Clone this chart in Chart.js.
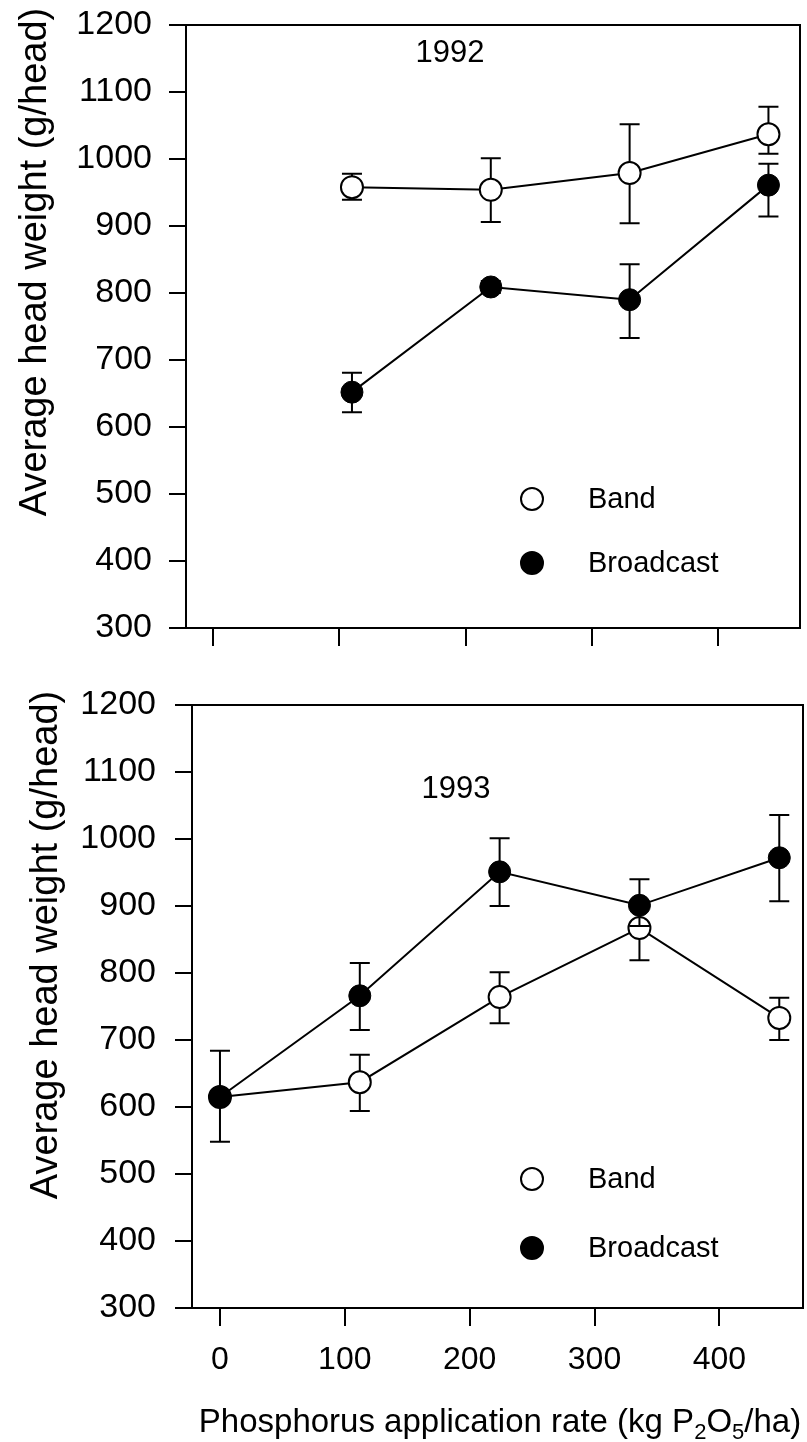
<!DOCTYPE html>
<html>
<head>
<meta charset="utf-8">
<script src="https://cdn.jsdelivr.net/npm/chart.js@4.4.1/dist/chart.umd.min.js"></script>
<style>
  html, body { margin: 0; padding: 0; background: #fff; }
  body { width: 807px; height: 1442px; position: relative; overflow: hidden; font-family: 'Liberation Sans', Arial, sans-serif; }
  .panel { position: absolute; left: 0; }
  #xtitle { position: absolute; left: 0; width: 1000px; top: 1402px; text-align: center; font-size: 33px; color: #000; white-space: nowrap; }
  #xtitle sub { font-size: 22px; vertical-align: -7px; line-height: 0; }
</style>
</head>
<body>
<div class="panel" style="top:0"><canvas id="chart1992" width="807" height="680"></canvas></div>
<div class="panel" style="top:680px"><canvas id="chart1993" width="807" height="762"></canvas></div>
<div id="xtitle">Phosphorus application rate (kg P<sub>2</sub>O<sub>5</sub>/ha)</div>

<script>
// Data
const rates1992 = [110, 220, 330, 440];
const band1992 = [958, 954, 979, 1037];
const band1992Lo = [939, 906, 904, 1008];
const band1992Hi = [978, 1001, 1052, 1078];
const broad1992 = [652, 809, 790, 961];
const broad1992Lo = [622, 800, 733, 914];
const broad1992Hi = [681, 818, 843, 993];

const rates1993 = [0, 112, 224, 336, 448];
const band1993 = [615, 637, 764, 867, 733];
const band1993Lo = [615, 594, 725, 819, 700];
const band1993Hi = [615, 678, 801, 900, 763];
const broad1993 = [615, 766, 951, 901, 972];
const broad1993Lo = [548, 715, 900, 870, 907];
const broad1993Hi = [684, 815, 1001, 940, 1036];

const xTickValues = [0, 100, 200, 300, 400];
const yTickValues = [300, 400, 500, 600, 700, 800, 900, 1000, 1100, 1200];
const yTitle = 'Average head weight (g/head)';

Chart.defaults.font.family = "'Liberation Sans', Arial, sans-serif";
Chart.defaults.color = '#000';

function points(xs, ys) {
  return xs.map((x, i) => ({ x: x, y: ys[i] }));
}

// Error bars drawn just before each dataset so later series sit on top
const errorBars = {
  id: 'errorBars',
  beforeDatasetDraw(chart, args) {
    const ds = chart.data.datasets[args.index];
    if (!ds.errLo) return;
    const yScale = chart.scales.y;
    const ctx = chart.ctx;
    ctx.save();
    ctx.strokeStyle = '#000';
    ctx.lineWidth = 2;
    args.meta.data.forEach((el, i) => {
      const lo = yScale.getPixelForValue(ds.errLo[i]);
      const hi = yScale.getPixelForValue(ds.errHi[i]);
      if (Math.abs(lo - hi) < 1) return;
      ctx.beginPath();
      ctx.moveTo(el.x, lo); ctx.lineTo(el.x, hi);
      ctx.moveTo(el.x - 10, lo); ctx.lineTo(el.x + 10, lo);
      ctx.moveTo(el.x - 10, hi); ctx.lineTo(el.x + 10, hi);
      ctx.stroke();
    });
    ctx.restore();
  }
};

// Closed frame, year label, in-plot legend and y title
const panelDecor = {
  id: 'panelDecor',
  afterDraw(chart, args, opts) {
    const ctx = chart.ctx;
    const a = chart.chartArea;
    ctx.save();
    ctx.strokeStyle = '#000';
    ctx.lineWidth = 2;
    ctx.strokeRect(a.left, a.top, a.right - a.left, a.bottom - a.top);

    ctx.fillStyle = '#000';
    ctx.textAlign = 'center';
    ctx.textBaseline = 'middle';
    ctx.font = "31px 'Liberation Sans', Arial, sans-serif";
    ctx.fillText(opts.year, opts.yearX, opts.yearY);

    // legend
    ctx.font = "29px 'Liberation Sans', Arial, sans-serif";
    ctx.textAlign = 'left';
    chart.data.datasets.forEach((ds, i) => {
      const y = opts.legendY + i * opts.legendGap;
      ctx.beginPath();
      ctx.arc(opts.legendX, y, ds.pointRadius, 0, Math.PI * 2);
      ctx.fillStyle = ds.pointBackgroundColor;
      ctx.fill();
      ctx.lineWidth = 2;
      ctx.stroke();
      ctx.fillStyle = '#000';
      ctx.fillText(ds.label, opts.legendX + 56, y + 1);
    });

    // rotated y title
    ctx.translate(opts.titleX, opts.titleY);
    ctx.rotate(-Math.PI / 2);
    ctx.textAlign = 'center';
    ctx.font = "38px 'Liberation Sans', Arial, sans-serif";
    ctx.fillText(yTitle, 0, 0);
    ctx.restore();
  }
};

function makePanel(canvasId, rates, band, bandLo, bandHi, broad, broadLo, broadHi, cfg) {
  return new Chart(document.getElementById(canvasId), {
    type: 'line',
    data: {
      datasets: [
        {
          label: 'Band',
          data: points(rates, band),
          errLo: bandLo, errHi: bandHi,
          order: 2,
          borderColor: '#000', borderWidth: 2,
          pointRadius: 11, pointBorderWidth: 2,
          pointBackgroundColor: '#fff', pointBorderColor: '#000'
        },
        {
          label: 'Broadcast',
          data: points(rates, broad),
          errLo: broadLo, errHi: broadHi,
          order: 1,
          borderColor: '#000', borderWidth: 2,
          pointRadius: 11, pointBorderWidth: 1,
          pointBackgroundColor: '#000', pointBorderColor: '#000'
        }
      ]
    },
    options: {
      responsive: false,
      animation: false,
      layout: { padding: cfg.padding, autoPadding: false },
      plugins: {
        legend: { display: false },
        tooltip: { enabled: false },
        panelDecor: cfg.decor
      },
      scales: {
        x: {
          type: 'linear',
          min: cfg.xMin, max: cfg.xMax,
          afterBuildTicks: (s) => { s.ticks = xTickValues.map(v => ({ value: v })); },
          afterFit: (s) => { s.height = cfg.xHeight; s.paddingLeft = 0; s.paddingRight = 0; },
          grid: { drawOnChartArea: false, drawTicks: true, tickLength: 18, color: '#000', lineWidth: 2 },
          border: { display: true, color: '#000', width: 2 },
          ticks: { display: cfg.showX, padding: 15, font: { size: 32 }, maxRotation: 0, callback: (v) => String(v) }
        },
        y: {
          min: 300, max: 1200,
          afterBuildTicks: (s) => { s.ticks = yTickValues.map(v => ({ value: v })); },
          afterFit: (s) => { s.width = cfg.yWidth; s.paddingTop = 0; s.paddingBottom = 0; },
          grid: { drawOnChartArea: false, drawTicks: true, tickLength: 17, color: '#000', lineWidth: 2 },
          border: { display: true, color: '#000', width: 2 },
          ticks: { padding: cfg.yPad, font: { size: 34 }, callback: (v) => String(v) }
        }
      }
    },
    plugins: [errorBars, panelDecor]
  });
}

makePanel('chart1992', rates1992, band1992, band1992Lo, band1992Hi, broad1992, broad1992Lo, broad1992Hi, {
  padding: { top: 25, right: 7, left: 0, bottom: 0 },
  yWidth: 186, yPad: 17, xHeight: 52, xMin: -21.5, xMax: 465, showX: false,
  decor: { year: '1992', yearX: 450, yearY: 53, legendX: 532, legendY: 499, legendGap: 64, titleX: 36, titleY: 262 }
});

makePanel('chart1993', rates1993, band1993, band1993Lo, band1993Hi, broad1993, broad1993Lo, broad1993Hi, {
  padding: { top: 25, right: 4, left: 0, bottom: 0 },
  yWidth: 192, yPad: 19, xHeight: 134, xMin: -22.4, xMax: 467, showX: true,
  decor: { year: '1993', yearX: 456, yearY: 109, legendX: 532, legendY: 499, legendGap: 69, titleX: 47, titleY: 265 }
});
</script>
</body>
</html>
